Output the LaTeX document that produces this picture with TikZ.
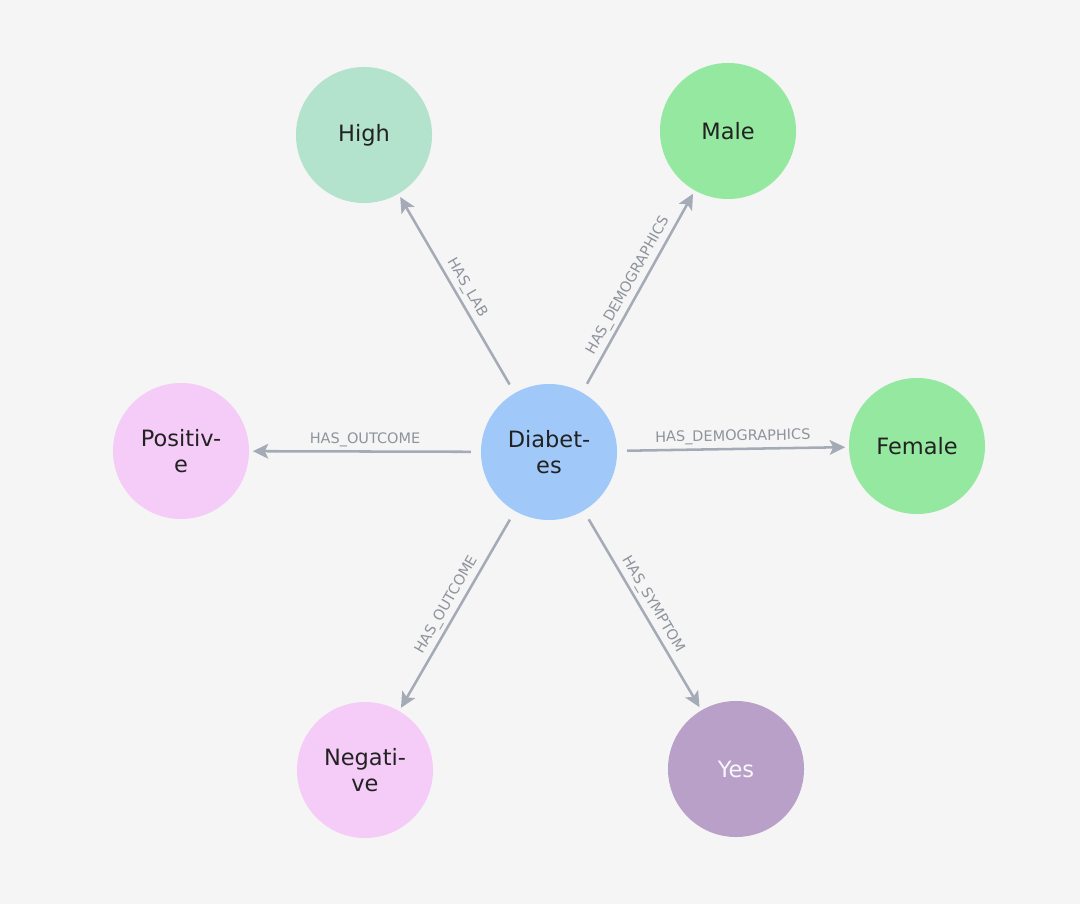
\documentclass[tikz,border=0pt]{standalone}
\usepackage{fontspec}
\setmainfont{DejaVu Sans}
\usetikzlibrary{arrows.meta}

\definecolor{canvas}{HTML}{F5F5F5}
\definecolor{edge}{HTML}{A5ABB6}
\definecolor{edgetext}{HTML}{8E939C}
\definecolor{ink}{HTML}{222222}
\definecolor{diabfill}{HTML}{A0C8F8}
\definecolor{labfill}{HTML}{B3E2CD}
\definecolor{demofill}{HTML}{95E8A0}
\definecolor{outfill}{HTML}{F5CCF8}
\definecolor{symfill}{HTML}{B9A0C8}

\tikzset{
	every entity/.style={circle, minimum size=3.4cm, inner sep=0pt, align=center,
		font=\fontsize{16}{18}\selectfont, text=ink},
	relation/.style={->, draw=edge, line width=1.8pt, shorten <=7pt, shorten >=2.5pt},
	rel label/.style={sloped, above, inner sep=2.5pt, text=edgetext,
		font=\fontsize{10.3}{12}\selectfont}
}

\begin{document}
\begin{tikzpicture}[x=0.025cm, y=0.025cm, >={Stealth[length=11pt, width=10.5pt, inset=2.5pt]}]
	
	\fill [canvas] (0,0) rectangle (1080,904);
	
	\node [every entity, fill=diabfill] (diabetes) at (549,452) {Diabet-\\es};
	
	\node [every entity, fill=labfill] (high) at (364,769) {High};
	\node [every entity, fill=demofill] (male) at (728,773) {Male};
	\node [every entity, fill=demofill] (female) at (917,458) {Female};
	\node [every entity, fill=outfill] (positive) at (181,453) {Positiv-\\e};
	\node [every entity, fill=outfill] (negative) at (365,134) {Negati-\\ve};
	\node [every entity, fill=symfill, text=white!92!symfill] (yes) at (736,135) {Yes};
	
	\foreach \n/\l in {high/HAS\_LAB, male/HAS\_DEMOGRAPHICS, female/HAS\_DEMOGRAPHICS,
		positive/HAS\_OUTCOME, negative/HAS\_OUTCOME, yes/HAS\_SYMPTOM}
	\draw [relation] (diabetes) -- node [rel label] {\l} (\n);
	
\end{tikzpicture}
\end{document}
